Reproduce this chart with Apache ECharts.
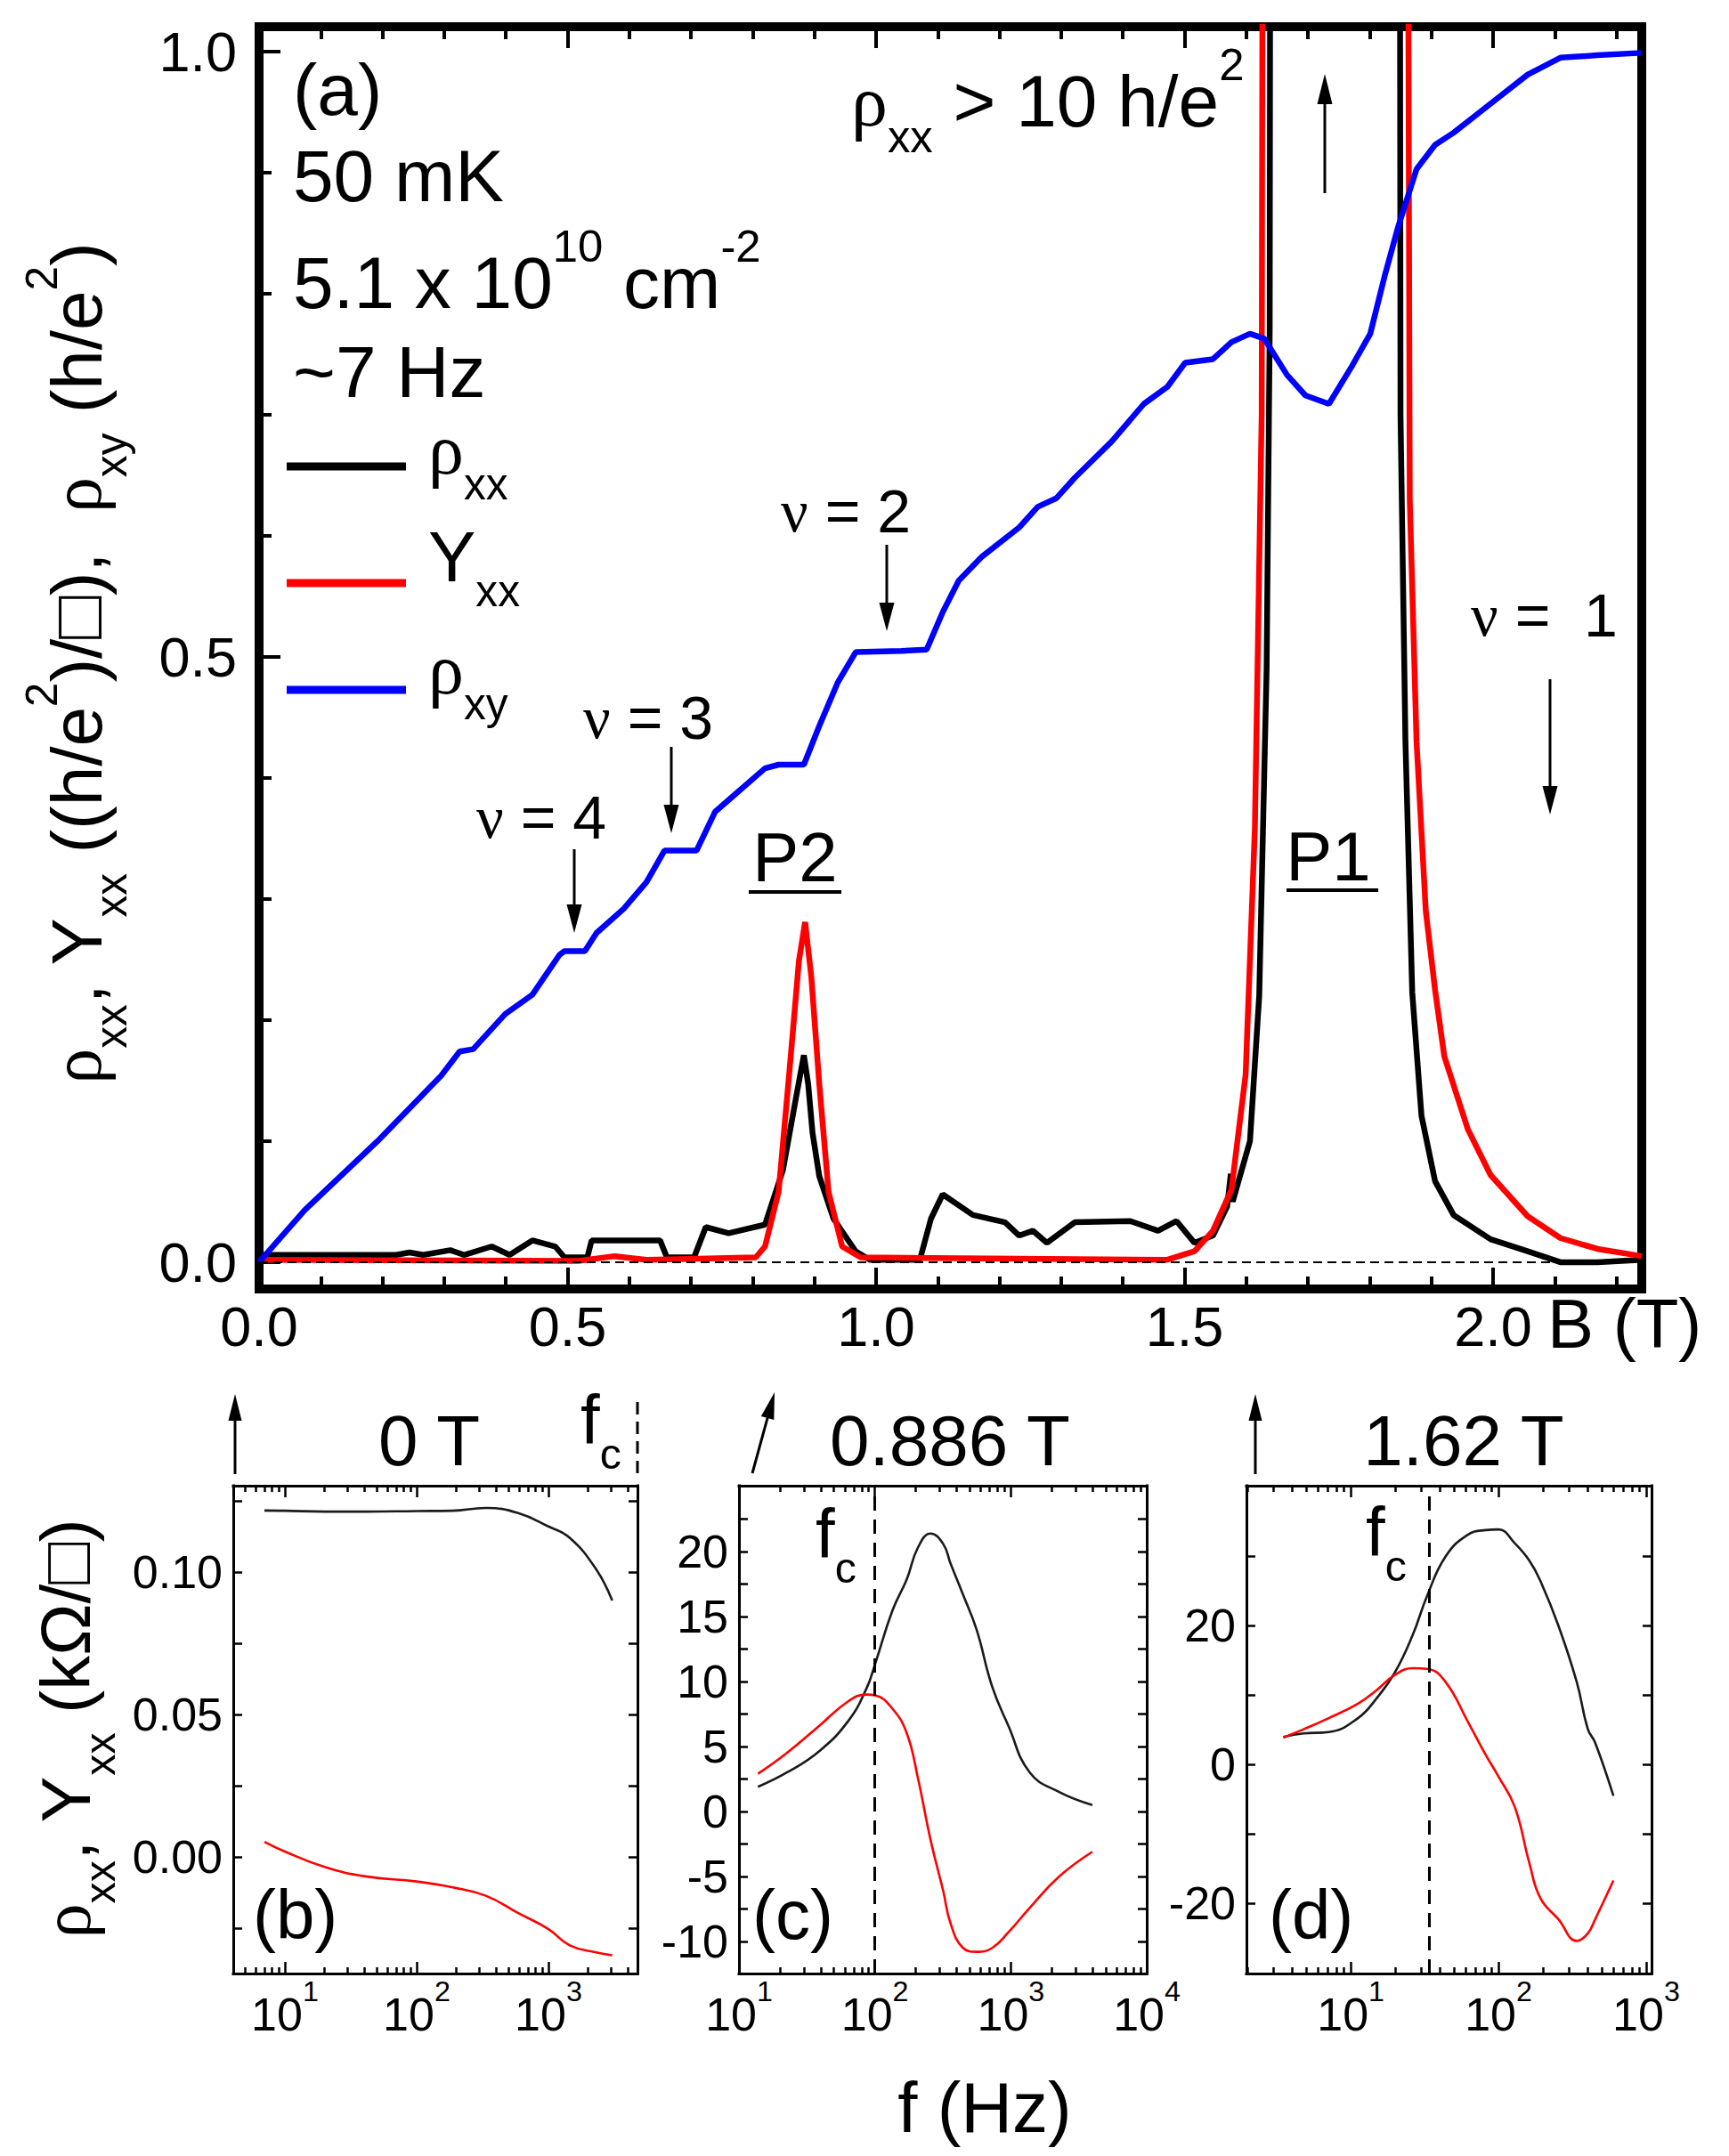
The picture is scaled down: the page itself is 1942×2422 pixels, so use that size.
<!DOCTYPE html>
<html>
<head>
<meta charset="utf-8">
<title>rho_xx, Y_xx, rho_xy vs B and f</title>
<script src="https://cdn.jsdelivr.net/npm/echarts@6.0.0/dist/echarts.min.js"></script>
<style>
  html, body { margin: 0; padding: 0; background: #fff; }
  #main { width: 1942px; height: 2422px; }
</style>
</head>
<body>
<div id="main"></div>
<script>
// ---------- panel (a): B sweep, in units of h/e^2 ----------
var B_rhoxx = [0, 0.148, 0.222, 0.244, 0.266, 0.310, 0.332, 0.377, 0.406, 0.443, 0.480, 0.495, 0.532, 0.539, 0.650,
  0.661, 0.705, 0.724, 0.761, 0.820, 0.849, 0.871, 0.883, 0.890, 0.897, 0.908, 0.931, 0.967, 0.990, 1.071,
  1.089, 1.108, 1.157, 1.209, 1.232, 1.254, 1.277, 1.322, 1.412, 1.457, 1.487, 1.516, 1.546, 1.569, 1.575,
  1.578, 1.606, 1.621, 1.633, 1.638, 1.643, 1.845, 1.850, 1.858, 1.869, 1.884, 1.906, 1.936, 1.996, 2.056,
  2.109, 2.169, 2.241];
var rhoxx = [0.006, 0.006, 0.006, 0.008, 0.006, 0.010, 0.006, 0.013, 0.006, 0.018, 0.013, 0.004, 0.004, 0.018, 0.018,
  0.004, 0.004, 0.029, 0.024, 0.031, 0.076, 0.138, 0.171, 0.147, 0.107, 0.071, 0.036, 0.009, 0.002, 0.002,
  0.036, 0.056, 0.039, 0.033, 0.022, 0.026, 0.016, 0.033, 0.034, 0.026, 0.034, 0.016, 0.022, 0.046, 0.073,
  0.050, 0.100, 0.220, 0.490, 0.770, 3.0, 3.0, 0.700, 0.430, 0.223, 0.121, 0.067, 0.039, 0.019, 0.009,
  0.000, 0.000, 0.002];

var B_yxx = [0, 0.517, 0.576, 0.628, 0.805, 0.820, 0.842, 0.860, 0.875, 0.885, 0.895, 0.908, 0.923, 0.945, 0.975,
  1.472, 1.516, 1.546, 1.576, 1.599, 1.614, 1.625, 1.633, 1.852, 1.865, 1.876, 1.891, 1.906, 1.921, 1.959,
  1.996, 2.056, 2.109, 2.169, 2.241];
var yxx = [0.002, 0.001, 0.005, 0.002, 0.004, 0.013, 0.058, 0.160, 0.249, 0.281, 0.236, 0.147, 0.058, 0.013, 0.004,
  0.002, 0.009, 0.026, 0.060, 0.155, 0.359, 0.700, 3.0, 3.0, 0.630, 0.430, 0.290, 0.225, 0.170, 0.110,
  0.072, 0.038, 0.020, 0.011, 0.005];

var B_rhoxy = [0, 0.074, 0.192, 0.295, 0.325, 0.347, 0.399, 0.443, 0.487, 0.495, 0.528, 0.547, 0.591, 0.628, 0.657,
  0.709, 0.739, 0.775, 0.820, 0.842, 0.883, 0.908, 0.938, 0.967, 1.041, 1.082, 1.108, 1.134, 1.172, 1.232,
  1.262, 1.292, 1.322, 1.382, 1.434, 1.472, 1.501, 1.546, 1.576, 1.606, 1.629, 1.666, 1.696, 1.734, 1.771,
  1.801, 1.824, 1.846, 1.876, 1.906, 1.936, 1.996, 2.056, 2.109, 2.169, 2.241];
var rhoxy = [0, 0.043, 0.100, 0.154, 0.174, 0.176, 0.205, 0.221, 0.254, 0.257, 0.257, 0.272, 0.292, 0.314, 0.340,
  0.340, 0.372, 0.388, 0.408, 0.411, 0.411, 0.443, 0.479, 0.504, 0.505, 0.506, 0.537, 0.563, 0.583, 0.607,
  0.624, 0.631, 0.648, 0.678, 0.709, 0.723, 0.743, 0.746, 0.760, 0.767, 0.763, 0.733, 0.716, 0.709, 0.740,
  0.767, 0.814, 0.855, 0.903, 0.923, 0.933, 0.957, 0.981, 0.995, 0.997, 0.999];

var bTicks = [0, 0.5, 1.0, 1.5, 2.0];
var aTicks = [0, 0.5, 1.0];

// ---------- panels (b)-(d): frequency sweeps, kOhm/sq ----------
var fB = [7, 10, 20, 41, 100, 185, 335, 590, 1000, 1450, 2300, 3050];
var rhoxxB = [0.1216, 0.1215, 0.1212, 0.1212, 0.1214, 0.1215, 0.1225, 0.1207, 0.1160, 0.1120, 0.1010, 0.0900];
var yxxB = [0.0053, 0.0019, -0.0035, -0.0068, -0.0086, -0.0106, -0.0136, -0.0197, -0.0253, -0.0310, -0.0335, -0.0345];

var fC = [13.8, 22.5, 39, 64, 87, 100, 135, 172, 207, 257, 318, 360, 445, 560, 730, 960, 1380, 2270, 3980];
var rhoxxC = [1.9, 3.0, 4.65, 7.0, 9.5, 11.3, 15.5, 17.9, 20.3, 21.4, 20.6, 19.1, 16.7, 14.0, 9.6, 6.6, 3.0, 1.5, 0.5];
var yxxC = [2.9, 4.5, 6.6, 8.5, 9.0, 8.95, 7.9, 6.0, 2.6, -2.2, -6.1, -8.6, -10.5, -10.8, -10.5, -9.3, -7.4, -5.0, -3.1];

var fD = [3.5, 4.8, 7.1, 11.2, 14.9, 19.8, 26.3, 33, 43.9, 61.7, 82, 100, 129, 162, 192, 255, 339, 403, 451, 600];
var rhoxxD = [4.0, 4.5, 4.7, 6.7, 9.5, 13.2, 18.7, 24.4, 30.0, 33.1, 33.8, 33.9, 31.9, 29.4, 26.5, 20.0, 11.9, 5.1, 3.2, -4.5];
var yxxD = [3.9, 5.1, 6.7, 8.8, 10.7, 12.9, 13.9, 13.8, 11.9, 6.3, 1.4, -1.7, -6.1, -14.2, -19.2, -22.3, -25.4, -24.3, -22.3, -16.7];

var fcC = 100, fcD = 34;

var SANS = '"Liberation Sans", Arial, sans-serif';
var SERIF = '"Liberation Serif", "Times New Roman", serif';

function zip(xs, ys) {
  return xs.map(function (x, i) { return [x, ys[i]]; });
}

// rich text styles: normal, greek, subscript, superscript
function rich(F) {
  return {
    n:   { fontFamily: SANS,  fontSize: F, lineHeight: 1.6 * F, fill: '#000', color: '#000' },
    g:   { fontFamily: SERIF, fontSize: F, lineHeight: 1.6 * F, fill: '#000', color: '#000' },
    sub: { fontFamily: SANS,  fontSize: 0.62 * F, lineHeight: 0.56 * F, verticalAlign: 'bottom', fill: '#000', color: '#000' },
    sup: { fontFamily: SANS,  fontSize: 0.62 * F, lineHeight: 0.68 * F, verticalAlign: 'top', fill: '#000', color: '#000' }
  };
}

var xAxes = [], yAxes = [];

function frameLine(w) {
  return { show: true, onZero: false, lineStyle: { color: '#000', width: w, cap: 'square' } };
}

// one axis that only draws ticks (and optionally labels / frame line)
function tickAxis(kind, gi, pos, min, max, ticks, len, w, frameW, label) {
  var a = {
    type: 'value', gridIndex: gi, position: pos, min: min, max: max,
    silent: true, splitLine: { show: false },
    axisLine: frameW ? frameLine(frameW) : { show: false, onZero: false },
    axisTick: { show: true, inside: true, length: len, customValues: ticks,
                lineStyle: { color: '#000', width: w } },
    axisLabel: label ? label : { show: false }
  };
  var list = kind === 'x' ? xAxes : yAxes;
  list.push(a);
  return list.length - 1;
}

function range(from, to, step) {
  var out = [];
  for (var v = from; v <= to + 1e-9; v += step) out.push(Math.round(v * 1e6) / 1e6);
  return out;
}

// ---------- main panel axes ----------
var XMAX = 2.241, YMIN = -0.0221, YMAX = 1.0206;
var bMinor = range(0.1, 2.2, 0.1).filter(function (v) { return Math.abs(v * 2 - Math.round(v * 2)) > 1e-6; });
var aMinor = range(0.1, 0.9, 0.1).filter(function (v) { return Math.abs(v - 0.5) > 1e-6; });

var mainX = tickAxis('x', 0, 'bottom', 0, XMAX, bTicks, 24, 4, 10, {
  show: true, customValues: bTicks, formatter: function (v) { return v.toFixed(1); },
  fontSize: 63, fontFamily: SANS, color: '#000', margin: 10, lineHeight: 63
});
tickAxis('x', 0, 'bottom', 0, XMAX, bMinor, 14, 4, 0);
tickAxis('x', 0, 'top', 0, XMAX, bTicks, 24, 4, 10);
tickAxis('x', 0, 'top', 0, XMAX, bMinor, 14, 4, 0);
var mainY = tickAxis('y', 0, 'left', YMIN, YMAX, aTicks, 24, 4, 10, {
  show: true, customValues: aTicks, formatter: function (v) { return v.toFixed(1); },
  fontSize: 63, fontFamily: SANS, color: '#000', margin: 25
});
tickAxis('y', 0, 'left', YMIN, YMAX, aMinor, 14, 4, 0);
yAxes.push({ type: 'value', gridIndex: 0, position: 'right', min: YMIN, max: YMAX, silent: true,
  splitLine: { show: false }, axisLine: frameLine(10), axisTick: { show: false }, axisLabel: { show: false } });

// ---------- lower panels ----------
function logTicks(lmin, lmax) {
  var major = [], minor = [];
  for (var d = Math.floor(lmin); d <= Math.ceil(lmax); d++) {
    if (d >= lmin - 1e-9 && d <= lmax + 1e-9) major.push(d);
    for (var k = 2; k <= 9; k++) {
      var l = d + Math.log10(k);
      if (l > lmin && l < lmax) minor.push(l);
    }
  }
  return { major: major, minor: minor };
}

var logLabel = {
  show: true, margin: 4, fontSize: 52, fontFamily: SANS, color: '#000',
  formatter: function (v) { return '{n|10}{sup|' + Math.round(v) + '}'; },
  rich: rich(52)
};

function lowerPanel(gi, fmin, fmax, ymin, ymax, yTickVals, yLabelVals, yFmt) {
  var lmin = Math.log10(fmin), lmax = Math.log10(fmax);
  var t = logTicks(lmin, lmax);
  // log data axis (bottom frame)
  xAxes.push({ type: 'log', logBase: 10, gridIndex: gi, position: 'bottom', min: fmin, max: fmax, silent: true,
    splitLine: { show: false }, axisLine: frameLine(3), axisTick: { show: false }, axisLabel: { show: false },
    minorTick: { show: false } });
  var xi = xAxes.length - 1;
  tickAxis('x', gi, 'bottom', lmin, lmax, t.major, 13, 2.5, 0,
    Object.assign({ customValues: t.major }, logLabel));
  tickAxis('x', gi, 'bottom', lmin, lmax, t.minor, 7, 2.5, 0);
  tickAxis('x', gi, 'top', lmin, lmax, t.major, 13, 2.5, 3);
  tickAxis('x', gi, 'top', lmin, lmax, t.minor, 7, 2.5, 0);
  var yi = tickAxis('y', gi, 'left', ymin, ymax, yTickVals, 10, 2.5, 3, {
    show: true, customValues: yLabelVals, formatter: yFmt,
    fontSize: 52, fontFamily: SANS, color: '#000', margin: 12
  });
  tickAxis('y', gi, 'right', ymin, ymax, yTickVals, 10, 2.5, 3);
  return { xi: xi, yi: yi };
}

var pB = lowerPanel(1, 4.06, 4740, -0.0409, 0.1303,
  [-0.025, 0, 0.025, 0.05, 0.075, 0.10, 0.125], [0, 0.05, 0.10],
  function (v) { return v.toFixed(2); });
var pC = lowerPanel(2, 10, 10000, -12.47, 25.08,
  range(-10, 22.5, 2.5), range(-10, 20, 5),
  function (v) { return String(Math.round(v)); });
var pD = lowerPanel(3, 1.97, 1087, -30.1, 40.2,
  [-20, -10, 0, 10, 20, 30], [-20, 0, 20],
  function (v) { return String(Math.round(v)); });

// ---------- series ----------
function mainLine(name, xs, ys, color, z) {
  return { type: 'line', name: name, xAxisIndex: mainX, yAxisIndex: mainY, data: zip(xs, ys),
    symbol: 'none', showSymbol: false, silent: true, z: z, clip: true,
    lineStyle: { color: color, width: 6.5 }, itemStyle: { color: color } };
}
function lowLine(p, name, xs, ys, color, mark) {
  var s = { type: 'line', name: name, xAxisIndex: p.xi, yAxisIndex: p.yi, data: zip(xs, ys),
    symbol: 'none', showSymbol: false, silent: true, smooth: 0.45, z: 3,
    lineStyle: { color: color, width: 2.6 }, itemStyle: { color: color } };
  if (mark) {
    s.markLine = { silent: true, symbol: ['none', 'none'], label: { show: false },
      lineStyle: { color: '#000', width: 3, type: [16, 10] }, data: [{ xAxis: mark }] };
  }
  return s;
}

var rhoA = mainLine('ρxx', B_rhoxx, rhoxx, '#000000', 2);
rhoA.markLine = { silent: true, symbol: ['none', 'none'], label: { show: false },
  lineStyle: { color: '#000', width: 2, type: [10, 6] }, data: [{ yAxis: 0 }] };

var series = [
  rhoA,
  mainLine('Yxx', B_yxx, yxx, '#ff0000', 3),
  mainLine('ρxy', B_rhoxy, rhoxy, '#0000ff', 4),
  lowLine(pB, 'ρxx', fB, rhoxxB, '#1a1a1a'),
  lowLine(pB, 'Yxx', fB, yxxB, '#ff0000'),
  lowLine(pC, 'ρxx', fC, rhoxxC, '#1a1a1a', fcC),
  lowLine(pC, 'Yxx', fC, yxxC, '#ff0000'),
  lowLine(pD, 'ρxx', fD, rhoxxD, '#1a1a1a', fcD),
  lowLine(pD, 'Yxx', fD, yxxD, '#ff0000')
];

// ---------- annotations ----------
function txt(x, y, s, F, align, rot) {
  var al = align || 'left';
  return { type: 'text', x: x, y: y, rotation: rot || 0, z: 100, silent: true,
    style: { text: s, rich: rich(F), fontSize: F, fontFamily: SANS, fill: '#000',
             align: al, verticalAlign: 'middle', textAlign: al, textVerticalAlign: 'middle' } };
}
function seg(x1, y1, x2, y2, w, dash, color) {
  var st = { stroke: color || '#000', lineWidth: w };
  if (dash) st.lineDash = dash;
  return { type: 'line', z: 100, silent: true, shape: { x1: x1, y1: y1, x2: x2, y2: y2 }, style: st };
}
function arrow(x1, y1, x2, y2, headLen, headW, lw) {
  var dx = x2 - x1, dy = y2 - y1, L = Math.sqrt(dx * dx + dy * dy);
  var ux = dx / L, uy = dy / L;
  var bx = x2 - ux * headLen, by = y2 - uy * headLen;
  var px = -uy * headW / 2, py = ux * headW / 2;
  return [
    seg(x1, y1, bx, by, lw),
    { type: 'polygon', z: 100, silent: true,
      shape: { points: [[x2, y2], [bx + px, by + py], [bx - px, by - py]] }, style: { fill: '#000' } }
  ];
}

var g = [];
// panel (a) texts
g.push(txt(329, 100, '{n|(a)}', 82));
g.push(txt(329, 197, '{n|50 mK}', 82));
g.push(txt(329, 317, '{n|5.1 x 10}{sup|10}{n| cm}{sup|-2}', 82));
g.push(txt(329, 417, '{n|~7 Hz}', 82));
// legend
g.push(seg(322, 524, 456, 524, 9, null, '#000000'));
g.push(seg(322, 655, 456, 655, 9, null, '#ff0000'));
g.push(seg(322, 775, 456, 775, 9, null, '#0000ff'));
g.push(txt(481, 505, '{g|ρ}{sub|xx}', 80));
g.push(txt(481, 625, '{n|Y}{sub|xx}', 80));
g.push(txt(481, 752, '{g|ρ}{sub|xy}', 80));
// main axis titles
g.push(txt(86, 745, '{g|ρ}{sub|xx}{n|, Y}{sub|xx}{n| ((h/e}{sup|2}{n|)/□),  }{g|ρ}{sub|xy}{n| (h/e}{sup|2}{n|)}',
  80, 'center', Math.PI / 2));
g.push(txt(1738, 1487, '{n|B (T)}', 78));
// labels inside (a)
g.push(txt(956, 113, '{g|ρ}{sub|xx}{n| > 10 h/e}{sup|2}', 82));
g.push(txt(535, 918, '{g|ν}{n| = 4}', 68));
g.push(txt(655, 806, '{g|ν}{n| = 3}', 68));
g.push(txt(877, 574, '{g|ν}{n| = 2}', 68));
g.push(txt(1652, 691, '{g|ν}{n| =  1}', 68));
g.push(txt(893, 963, '{n|P2}', 78, 'center'));
g.push(seg(841, 1002, 945, 1002, 4));
g.push(txt(1492, 962, '{n|P1}', 78, 'center'));
g.push(seg(1445, 1000, 1548, 1000, 4));
g = g.concat(arrow(645, 954, 645, 1048, 32, 17, 3));
g = g.concat(arrow(754, 839, 754, 936, 32, 17, 3));
g = g.concat(arrow(996, 612, 996, 709, 32, 17, 3));
g = g.concat(arrow(1488, 217, 1488, 83, 34, 17, 3));
g = g.concat(arrow(1741, 763, 1741, 915, 32, 17, 3));
// lower panels
g.push(txt(482, 1618, '{n|0 T}', 80, 'center'));
g.push(txt(1067, 1618, '{n|0.886 T}', 80, 'center'));
g.push(txt(1644, 1618, '{n|1.62 T}', 80, 'center'));
g = g.concat(arrow(264, 1656, 264, 1566, 30, 15, 3));
g = g.concat(arrow(845, 1655, 870, 1564, 30, 15, 3));
g = g.concat(arrow(1410, 1656, 1410, 1566, 30, 15, 3));
g.push(seg(716, 1575, 716, 1657, 3, [14, 8]));
g.push(txt(652, 1595, '{n|f}{sub|c}', 78));
g.push(txt(916, 1723, '{n|f}{sub|c}', 78));
g.push(txt(1534, 1721, '{n|f}{sub|c}', 78));
g.push(txt(284, 2151, '{n|(b)}', 78));
g.push(txt(845, 2151, '{n|(c)}', 78));
g.push(txt(1425, 2151, '{n|(d)}', 78));
g.push(txt(1106, 2367, '{n|f (Hz)}', 80, 'center'));
g.push(txt(74, 1942, '{g|ρ}{sub|xx}{n|, Y}{sub|xx}{n| (kΩ/□)}', 78, 'center', Math.PI / 2));

var chart = echarts.init(document.getElementById('main'), null, { renderer: 'svg' });
chart.setOption({
  animation: false,
  backgroundColor: '#ffffff',
  textStyle: { fontFamily: SANS, color: '#000' },
  tooltip: { show: false },
  grid: [
    { left: 291, top: 30, width: 1553, height: 1418, containLabel: false, outerBoundsMode: 'none' },
    { left: 262, top: 1669, width: 454, height: 548, containLabel: false, outerBoundsMode: 'none' },
    { left: 830, top: 1669, width: 458, height: 548, containLabel: false, outerBoundsMode: 'none' },
    { left: 1400, top: 1669, width: 455, height: 548, containLabel: false, outerBoundsMode: 'none' }
  ],
  xAxis: xAxes,
  yAxis: yAxes,
  series: series,
  graphic: { elements: g }
});
</script>
</body>
</html>
